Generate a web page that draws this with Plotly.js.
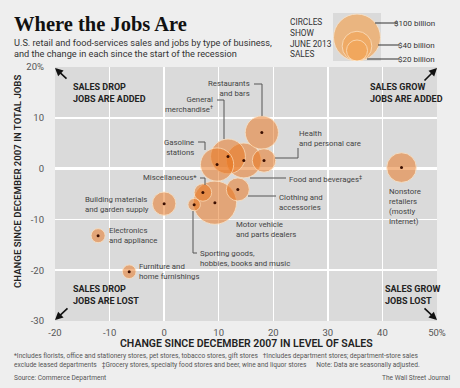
<!DOCTYPE html>
<html>
<head>
<meta charset="utf-8">
<script src="https://cdn.plot.ly/plotly-3.0.1.min.js"></script>
<style>
html,body{margin:0;padding:0;background:#eeeeee;}
#chart{width:460px;height:388px;}
</style>
</head>
<body>
<div id="chart"></div>
<script>
// ---- data ----
const categories = [
  'Motor vehicle and parts dealers', 'Food and beverages', 'General merchandise',
  'Gasoline stations', 'Restaurants and bars', 'Nonstore retailers',
  'Building materials and garden supply', 'Health and personal care',
  'Clothing and accessories', 'Miscellaneous', 'Electronics and appliance',
  'Furniture and home furnishings', 'Sporting goods, hobbies, books and music'
];
const salesChange = [9.3, 14.6, 11.7, 9.7, 17.9, 43.5, 0.0, 18.3, 13.5, 7.1, -12.1, -6.4, 5.5];
const jobsChange  = [-6.7, 1.6, 2.4, 0.8, 7.1, 0.2, -6.9, 1.6, -4.1, -4.7, -13.2, -20.3, -7.1];
const juneSales   = [85, 55, 55, 50, 50, 40, 25, 25, 24, 14, 9, 8.5, 7];   // $ billion
const legendValues = [100, 40, 20];
const legendLabels = ['$100 billion', '$40 billion', '$20 billion'];
const xTickVals = [-20, -10, 0, 10, 20, 30, 40, 50];
const xTickText = ['-20', '-10', '0', '10', '20', '30', '40', '50%'];
const yTickVals = [-30, -20, -10, 0, 10, 20];
const yTickText = ['-30', '-20', '-10', '0', '10', '20%'];

// ---- layout helpers (pixel -> paper) ----
const W = 460, H = 388;
const px = v => v / W;
const py = v => 1 - v / H;
const SIZEREF = 2 * 100 / (47 * 47);   // 100 bn -> 47 px diameter (plotly area mode)
const FONT = 'Roboto, Arial, sans-serif';

const bubbles = {
  type: 'scatter', mode: 'markers',
  x: salesChange, y: jobsChange, text: categories,
  hoverinfo: 'text',
  marker: {
    size: juneSales, sizemode: 'area', sizeref: SIZEREF,
    color: 'rgba(234,118,30,0.74)',
    line: {color: 'rgba(255,226,190,0.95)', width: 1}
  },
  xaxis: 'x', yaxis: 'y'
};
const dots = {
  type: 'scatter', mode: 'markers', x: salesChange, y: jobsChange,
  hoverinfo: 'skip',
  marker: {size: 3, color: '#3a0e00'}, xaxis: 'x', yaxis: 'y'
};
// legend circles on a helper axis measured in pixels; bottoms aligned
const legR = legendValues.map(v => Math.sqrt(2 * v / SIZEREF) / 2);
const legendTrace = {
  type: 'scatter', mode: 'markers',
  x: legendValues.map(() => 0), y: legR,
  hoverinfo: 'skip',
  marker: {size: legendValues, sizemode: 'area', sizeref: SIZEREF,
           color: 'rgb(242,166,90)', line: {color: 'rgba(255,230,200,1)', width: 1}},
  xaxis: 'x2', yaxis: 'y2'
};

const annotations = [];
const shapes = [];
function txt(x, y, text, opts) {
  annotations.push(Object.assign({
    xref: 'paper', yref: 'paper', x: px(x), y: py(y), text: text,
    showarrow: false, xanchor: 'left', yanchor: 'middle', align: 'left',
    font: {family: FONT, size: 7.8, color: '#444'}
  }, opts || {}));
}
function line(points, color) {
  let d = points.map((p, i) => (i ? 'L' : 'M') + px(p[0]) + ',' + py(p[1])).join(' ');
  shapes.push({type: 'path', xref: 'paper', yref: 'paper', path: d,
               line: {color: color || '#555', width: 1}});
}
function arrow(tipX, tipY, tailX, tailY) {
  annotations.push({xref: 'paper', yref: 'paper', x: px(tipX), y: py(tipY),
    ax: tailX - tipX, ay: tailY - tipY, text: '', showarrow: true,
    arrowhead: 2, arrowsize: 1, arrowwidth: 1.6, arrowcolor: '#111'});
}

// title block
txt(12, 24, 'Where the Jobs Are', {font: {family: 'Liberation Serif, DejaVu Serif, serif', size: 20.5, color: '#111', weight: 700}});
txt(12, 42, 'U.S. retail and food-services sales and jobs by type of business,', {font: {family: FONT, size: 9.2, color: '#333'}});
txt(12, 53.5, 'and the change in each since the start of the recession', {font: {family: FONT, size: 9.2, color: '#333'}});
txt(288, 38, 'CIRCLES<br>SHOW<br>JUNE 2013<br>SALES', {font: {family: FONT, size: 8.3, color: '#333'}});
// legend labels
const legY = [23, 45, 59];
legendLabels.forEach((l, i) => {
  txt(437, legY[i], l, {xanchor: 'right', font: {family: FONT, size: 8, color: '#333'}});
});
line([[375, 23], [398, 23]], '#333');
line([[378, 45], [399, 45]], '#333');
line([[367, 59], [399, 59]], '#333');

// quadrant notes
const QF = {family: FONT, size: 9, color: '#222', weight: 700};
txt(71, 93, 'SALES DROP<br>JOBS ARE ADDED', {font: QF});
txt(368, 93, 'SALES GROW<br>JOBS ARE ADDED', {font: QF});
txt(71, 295, 'SALES DROP<br>JOBS ARE LOST', {font: QF});
txt(383, 295, 'SALES GROW<br>JOBS LOST', {font: QF});
arrow(55, 68, 68, 80);
arrow(437, 68, 423, 82);
arrow(55, 320, 69, 307);
arrow(437, 320, 423, 307);

// category labels
txt(252, 89, 'Restaurants<br>and bars', {xanchor: 'right', align: 'right'});
line([[254, 84], [262, 84], [262, 116]]);
txt(215, 105, 'General<br>merchandise<sup>†</sup>', {xanchor: 'right', align: 'right'});
line([[217, 100], [224, 100], [224, 139]]);
txt(196, 147, 'Gasoline<br>stations', {xanchor: 'right', align: 'right'});
line([[198, 142], [205, 142], [205, 150]]);
txt(199, 178, 'Miscellaneous*', {xanchor: 'right', align: 'right'});
line([[200, 178], [205, 178], [205, 185]]);
txt(83, 204, 'Building materials<br>and garden supply');
txt(107, 236, 'Electronics<br>and appliance');
txt(137, 271, 'Furniture and<br>home furnishings');
txt(198, 258, 'Sporting goods,<br>hobbies, books and music');
line([[193, 211], [193, 253], [197, 253]]);
txt(234, 229, 'Motor vehicle<br>and parts dealers');
txt(277, 202, 'Clothing and<br>accessories');
line([[248, 196], [276, 196]]);
txt(287, 179, 'Food and beverages<sup>‡</sup>');
line([[250, 178], [286, 178]]);
txt(297, 138, 'Health<br>and personal care');
line([[275, 158], [298, 158], [298, 148]]);
txt(387, 206, 'Nonstore<br>retailers<br>(mostly<br>Internet)');

// axis titles
txt(246, 343, 'CHANGE SINCE DECEMBER 2007 IN LEVEL OF SALES', {xanchor: 'center', align: 'center',
    font: {family: FONT, size: 10.5, color: '#222', weight: 600}});
txt(17, 182, 'CHANGE SINCE DECEMBER 2007 IN TOTAL JOBS', {xanchor: 'center', align: 'center', textangle: -90,
    font: {family: FONT, size: 9.6, color: '#222', weight: 600}});

// footnotes
const FF = {family: FONT, size: 6.6, color: '#555'};
txt(12, 356, '*Includes florists, office and stationery stores, pet stores, tobacco stores, gift stores &nbsp; †Includes department stores; department-store sales', {font: FF});
txt(12, 365, 'exclude leased departments &nbsp; ‡Grocery stores, specialty food stores and beer, wine and liquor stores &nbsp;&nbsp;&nbsp;&nbsp; Note: Data are seasonally adjusted.', {font: FF});
txt(12, 378, 'Source: Commerce Department', {font: FF});
txt(452, 378, 'The Wall Street Journal', {xanchor: 'right', font: FF});

const layout = {
  width: W, height: H,
  margin: {l: 0, r: 0, t: 0, b: 0},
  paper_bgcolor: '#eeeeee', plot_bgcolor: '#dadada',
  showlegend: false,
  font: {family: FONT},
  xaxis: {
    domain: [px(55), px(437)], range: [-20, 50],
    tickvals: xTickVals, ticktext: xTickText,
    tickfont: {family: FONT, size: 9.5, color: '#555'},
    showgrid: true, gridcolor: '#ffffff', gridwidth: 1.5,
    zeroline: true, zerolinecolor: '#ffffff', zerolinewidth: 2.5,
    showline: false, ticks: '', ticklabelstandoff: 4, fixedrange: true
  },
  yaxis: {
    domain: [py(321), py(67)], range: [-30, 20],
    tickvals: yTickVals, ticktext: yTickText,
    tickfont: {family: FONT, size: 9.5, color: '#555'},
    showgrid: true, gridcolor: '#ffffff', gridwidth: 1.5,
    zeroline: true, zerolinecolor: '#ffffff', zerolinewidth: 2.5,
    showline: false, ticks: '', ticklabelstandoff: 10, fixedrange: true
  },
  xaxis2: {domain: [px(333), px(381)], range: [-24, 24], visible: false, anchor: 'y2', fixedrange: true},
  yaxis2: {domain: [py(61), py(13)], range: [0, 48], visible: false, anchor: 'x2', fixedrange: true},
  annotations: annotations,
  shapes: shapes
};

Plotly.newPlot('chart', [bubbles, dots, legendTrace], layout, {displayModeBar: false, staticPlot: true});
</script>
</body>
</html>
